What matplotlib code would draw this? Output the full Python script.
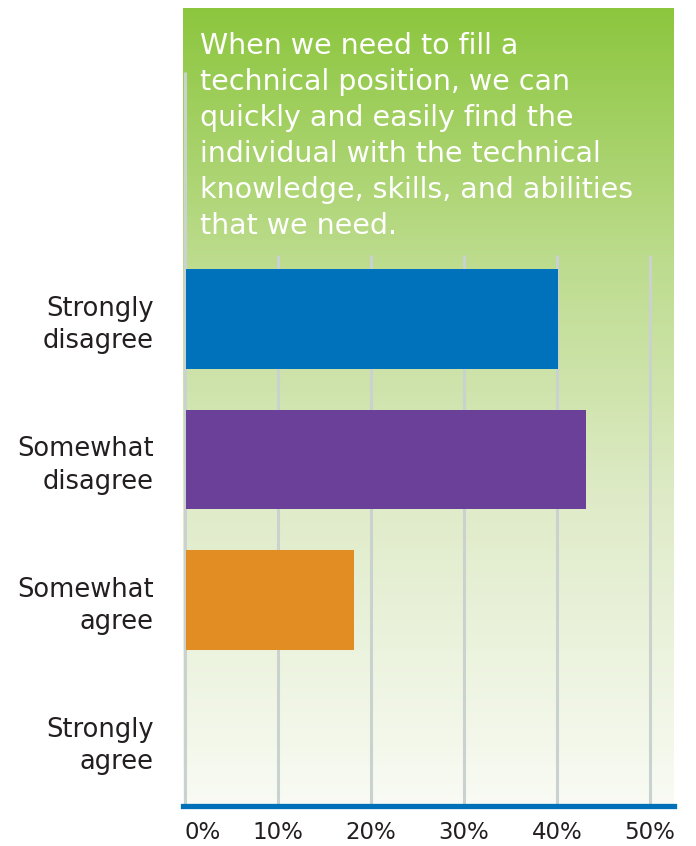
import numpy as np
import matplotlib.pyplot as plt
from matplotlib.colors import LinearSegmentedColormap

# survey data
categories = ['Strongly\ndisagree', 'Somewhat\ndisagree', 'Somewhat\nagree', 'Strongly\nagree']
values = [40, 43, 18, 0]
bar_colors = ['#0071bb', '#6b4098', '#e28d24', '#e28d24']
tick_vals = [0, 10, 20, 30, 40, 50]
tick_labels = ['0%', '10%', '20%', '30%', '40%', '50%']
title = ('When we need to fill a\ntechnical position, we can\nquickly and easily find the\n'
         'individual with the technical\nknowledge, skills, and abilities\nthat we need.')

plt.rcParams['font.family'] = ['DejaVu Sans']

W, H = 696, 846
fig = plt.figure(figsize=(W / 100, H / 100), dpi=100)
fig.patch.set_facecolor('white')

# axes box matches the green panel
left, right, top, bottom = 183, 674, 8, 806
ax = fig.add_axes([left / W, 1 - bottom / H, (right - left) / W, (bottom - top) / H])

xmin, xmax = -0.2, 52.6
ymin, ymax = -2.217, 3.47
ax.set_xlim(xmin, xmax)
ax.set_ylim(ymax, ymin)

# green to white background gradient
grad = LinearSegmentedColormap.from_list('panel', [
    (0.0, '#8cc63e'), (0.32, '#bddc8e'), (0.62, '#dfebc8'), (1.0, '#f9fbf4')])
ax.imshow(np.linspace(0, 1, 256).reshape(-1, 1), cmap=grad, aspect='auto',
          extent=[xmin, xmax, ymax, ymin], zorder=0)

# vertical gridlines
for t in tick_vals[1:]:
    ax.plot([t, t], [-0.456, ymax], color='#c9d2ce', lw=2.2, zorder=1, solid_capstyle='butt')
ax.plot([0, 0], [-1.76, ymax], color='#c9d2ce', lw=2.2, zorder=1, solid_capstyle='butt')

y = np.arange(len(categories))
ax.barh(y, values, height=0.71, color=bar_colors, left=0.15, zorder=2)

for s in ['top', 'right', 'left']:
    ax.spines[s].set_visible(False)
ax.spines['bottom'].set_color('#0070b8')
ax.spines['bottom'].set_linewidth(3.8)

ax.set_yticks(y)
ax.set_yticklabels(categories, fontsize=18.5, color='#231f20', ha='right',
                   linespacing=1.32)
ax.tick_params(axis='y', length=0, pad=21)

ax.set_xticks(tick_vals)
ax.set_xticklabels(tick_labels, fontsize=16.5, color='#231f20')
ax.get_xticklabels()[0].set_horizontalalignment('left')
ax.tick_params(axis='x', length=0, pad=11)

fig.text(200 / W, 1 - 32 / H, title, color='white', fontsize=20.5,
         va='top', ha='left', linespacing=1.36)

fig.savefig('out.png', dpi=100, facecolor='white')
